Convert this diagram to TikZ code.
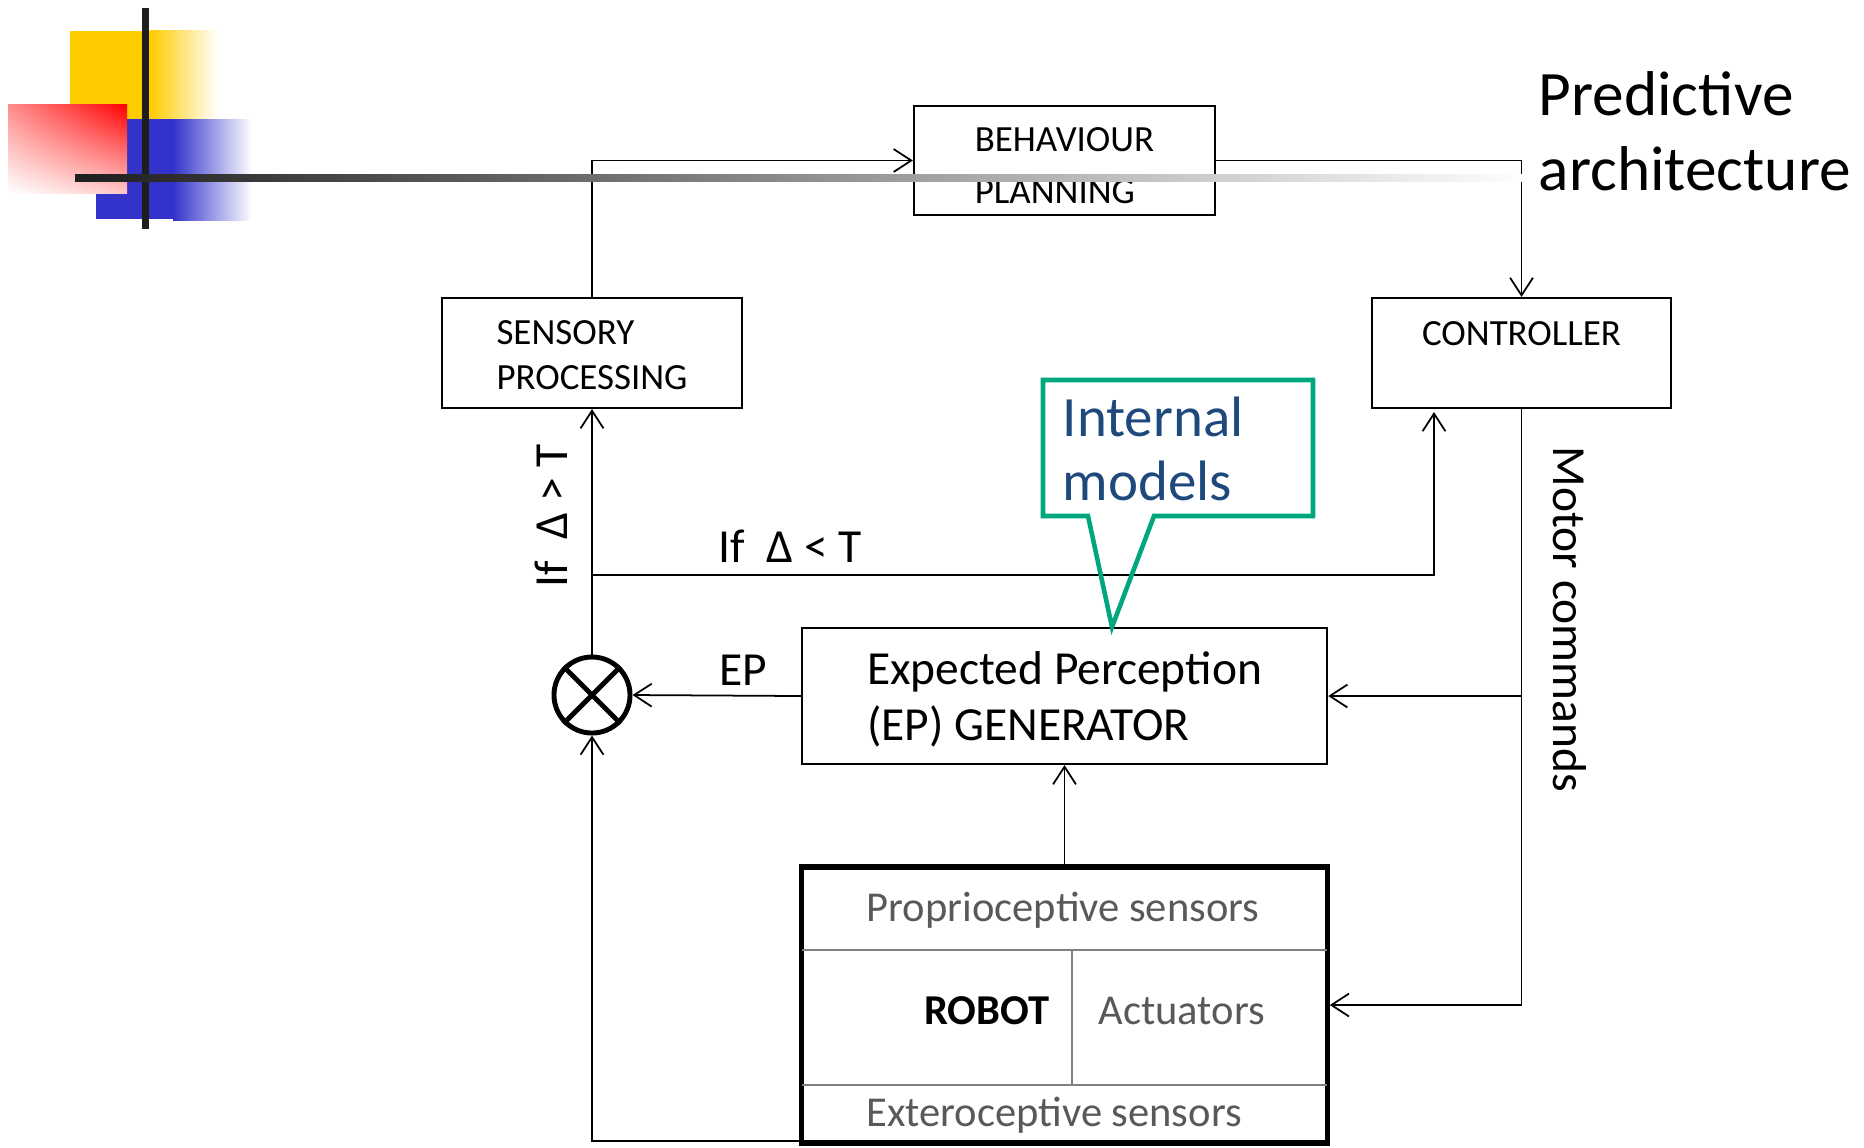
\documentclass[tikz,border=0pt]{standalone}
\usepackage{fontspec}
\setmainfont{Carlito}
\usetikzlibrary{arrows.meta,calc,shadings}
\definecolor{decoyellow}{HTML}{FFCC00}
\definecolor{decoblue}{HTML}{3333CC}
\definecolor{decobar}{HTML}{1E1E1E}
\definecolor{calloutgreen}{HTML}{00A67E}
\definecolor{modelblue}{HTML}{1F497D}
\definecolor{robotgray}{HTML}{595959}
\definecolor{dividergray}{HTML}{808080}
\newcommand{\topstrut}{\rule{0pt}{8.3pt}}
\newcommand{\behstrut}{\rule{0pt}{9.85pt}}
\begin{document}
\begin{tikzpicture}[x=0.01cm,y=-0.01cm,
  conn/.style={line width=0.5pt,-{Straight Barb[length=5pt,width=6.5pt]}},
  blockbox/.style={draw,line width=0.6pt,inner sep=0pt,align=left,font=\fontsize{10.5}{12.8}\selectfont},
  midtext/.style={inner sep=0pt,font=\fontsize{13.5}{16}\selectfont},
  robottext/.style={inner sep=0pt,font=\fontsize{12.1}{14}\selectfont},
  graytext/.style={robottext,text=robotgray},
  divider/.style={draw=dividergray,line width=0.8pt}
]
\useasboundingbox (0,0) rectangle (1864,1147);

% decoration
\fill[decoyellow] (70,31) rectangle (150,119);
\shade[left color=decoyellow,right color=white] (150,30) rectangle (218,119);
\fill[decoblue] (96,119) rectangle (174,219);
\shade[left color=decoblue,right color=white] (173,119) rectangle (252,220);
\shade[upper left=red!45,upper right=red,lower left=white,lower right=red!22] (8,104) rectangle (127,193);

% blocks
\node[blockbox,minimum width=3.01cm,minimum height=1.09cm,font=\fontsize{10.5}{14.65}\selectfont] (beh) at (1064.5,160.5) {\behstrut BEHAVIOUR\\PLANNING};
\node[blockbox,minimum width=3.00cm,minimum height=1.10cm] (sens) at (592,353) {\topstrut SENSORY\\PROCESSING};
\node[blockbox,minimum width=2.99cm,minimum height=1.10cm,align=center] (ctrl) at (1521.5,353) {\topstrut CONTROLLER\\\phantom{X}};
\node[blockbox,minimum width=5.25cm,minimum height=1.36cm,font=\fontsize{13.5}{16}\selectfont,text depth=0pt] (epg) at (1064.5,696) {Expected Perception\\(EP) GENERATOR};
\node[draw,line width=1.5pt,inner sep=0pt,minimum width=5.25cm,minimum height=2.76cm] (robot) at (1064.5,1005) {};
\node[circle,draw,line width=1.4pt,minimum size=0.76cm,inner sep=0pt] (cmp) at (592,695) {};
\draw[line width=1.4pt] (cmp.north west) -- (cmp.south east) (cmp.north east) -- (cmp.south west);

% robot internals
\draw[divider] (802,950) -- (1327,950);
\draw[divider] (802,1085) -- (1327,1085);
\draw[divider] (1072,950) -- (1072,1085);
\node[graytext,anchor=base] (prop) at (1063,921) {Proprioceptive sensors};
\node[graytext,anchor=base] (exte) at (1054,1126) {Exteroceptive sensors};
\node[robottext,anchor=base east,font=\fontsize{12.1}{14}\selectfont\bfseries] (rob) at (1050,1024) {ROBOT};
\node[graytext,anchor=base west] (act) at (1098,1024) {Actuators};

% connectors
\coordinate (jn) at (592,575);
\coordinate (ctin) at (1434,412);
\coordinate (rb) at ($(robot.south west)+(0,-5)$);
\draw[conn] (cmp.north) -- (sens.south);
\draw[conn] (jn) -| (ctin);
\draw[conn] (sens.north) |- (beh.west);
\draw[conn] (beh.east) -| (ctrl.north);
\draw[conn] (ctrl.south) |- (robot.east);
\draw[conn] (ctrl.south |- epg.east) -- (epg.east);
\draw[conn] (epg.west) -- (cmp.east);
\draw[conn] (robot.north) -- (epg.south);
\draw[conn] (rb) -| (cmp.south);

% labels
\node[midtext,anchor=base west] (lt) at (718,562) {If\ \ Δ < T};
\node[midtext,anchor=base west] (lep) at (719,685) {EP};
\node[midtext,anchor=base west,rotate=90] (gt) at (567,588) {If\ \ Δ > T};
\node[midtext,anchor=base west,rotate=-90] (mc) at (1553,446) {Motor commands};

% callout
\draw[calloutgreen,line width=1.3pt,line join=miter] (1043,380) -- (1313,380) -- (1313,516) -- (1154,516) -- (1112,627) -- (1088,516) -- (1043,516) -- cycle;
\node[inner sep=0pt,anchor=west,align=left,text=modelblue,font=\fontsize{16.2}{18.2}\selectfont] (im) at (1062,449) {Internal\\models};

% title
\node[inner sep=0pt,anchor=west,align=left,font=\fontsize{18}{21.3}\selectfont] (title) at (1538,131) {Predictive\\architecture};

% bars on top
\fill[decobar] (142,8) rectangle (149,229);
\shade[left color=decobar,right color=white] (75,174) rectangle (1530,181);
\end{tikzpicture}
\end{document}
